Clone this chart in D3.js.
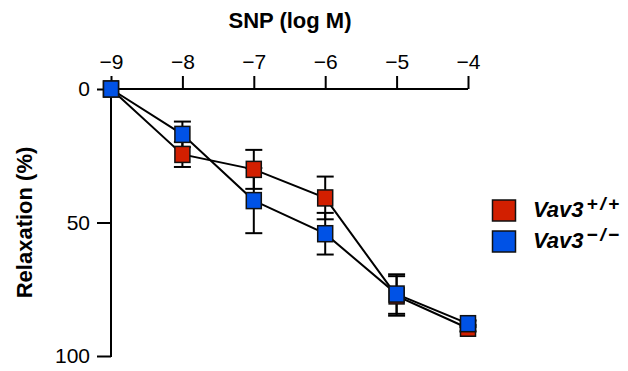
<!DOCTYPE html>
<html>
<head>
<meta charset="utf-8">
<script src="https://cdn.jsdelivr.net/npm/d3@7"></script>
<style>
  html, body { margin: 0; padding: 0; background: #fff; }
  svg { display: block; }
  text { font-family: "Liberation Sans", Arial, Helvetica, sans-serif; }
</style>
</head>
<body>
<svg id="chart" width="628" height="371"></svg>
<script>
// ---- data ----
const logConc = [-9, -8, -7, -6, -5, -4];
const xTicks = [-9, -8, -7, -6, -5, -4];
const yTicks = [0, 50, 100];
const wtMean = [0, 24.5, 30.1, 40.8, 77.5, 89.6];
const wtSem  = [0, 4.7, 7.3, 8.0, 7.4, 1.2];
const koMean = [0, 17.0, 41.8, 54.2, 76.8, 87.9];
const koSem  = [0, 4.8, 12.2, 7.8, 7.4, 1.2];
const seriesNames = ["+/+", "\u2212/\u2212"];
const xTitle = "SNP (log M)";
const yTitle = "Relaxation (%)";

const colors = ["#d21f00", "#0052e6"];

const svg = d3.select("#chart");
const x = d3.scaleLinear().domain([-9, -4]).range([111, 468]);
const y = d3.scaleLinear().domain([0, 100]).range([89, 356]);

const series = [
  { name: seriesNames[0], color: colors[0], pts: logConc.map((c, i) => ({ c, m: wtMean[i], s: wtSem[i] })) },
  { name: seriesNames[1], color: colors[1], pts: logConc.map((c, i) => ({ c, m: koMean[i], s: koSem[i] })) }
];

// axes
const xAxis = d3.axisTop(x).tickValues(xTicks).tickSize(13).tickPadding(7)
  .tickFormat(d => d3.format("")(d).replace("-", "\u2212"));
const gx = svg.append("g").attr("transform", `translate(0,${y(0)})`).call(xAxis);
gx.select(".domain").attr("d", `M${x(-9)},0H${x(-4)}`);
const yAxis = d3.axisLeft(y).tickValues(yTicks).tickSize(14).tickPadding(7);
const gy = svg.append("g").attr("transform", `translate(${x(-9)},0)`).call(yAxis);
gy.select(".domain").attr("d", `M0,${y(0)}V${y(100) + 1}`);
svg.selectAll(".domain, .tick line").attr("stroke", "#000").attr("stroke-width", 2);
svg.selectAll(".tick text").attr("font-size", 21).attr("fill", "#000")
  .attr("font-family", "Liberation Sans, Arial, sans-serif");

// titles
svg.append("text").attr("x", 290).attr("y", 28).attr("text-anchor", "middle")
  .attr("font-size", 22).attr("font-weight", "bold").text(xTitle);
svg.append("text").attr("transform", `translate(32,${y(50)}) rotate(-90)`)
  .attr("text-anchor", "middle").attr("font-size", 22).attr("font-weight", "bold").text(yTitle);

// error bars
const capW = 17;
series.forEach(s => {
  const g = svg.append("g");
  s.pts.filter(p => p.s > 0).forEach(p => {
    const cx = x(p.c), y1 = y(p.m - p.s), y2 = y(p.m + p.s);
    g.append("line").attr("x1", cx).attr("x2", cx).attr("y1", y1).attr("y2", y2)
      .attr("stroke", "#000").attr("stroke-width", 2);
    [y1, y2].forEach(yy => g.append("line").attr("x1", cx - capW / 2).attr("x2", cx + capW / 2)
      .attr("y1", yy).attr("y2", yy).attr("stroke", "#000").attr("stroke-width", 2));
  });
});

// lines
const line = d3.line().x(p => x(p.c)).y(p => y(p.m));
series.forEach(s => {
  svg.append("path").attr("d", line(s.pts)).attr("fill", "none")
    .attr("stroke", "#000").attr("stroke-width", 2);
});

// markers
const mw = 15, mh = 16;
series.forEach(s => {
  svg.append("g").selectAll("rect").data(s.pts).join("rect")
    .attr("x", p => x(p.c) - mw / 2).attr("y", p => y(p.m) - mh / 2)
    .attr("width", mw).attr("height", mh)
    .attr("fill", s.color).attr("stroke", "#111").attr("stroke-width", 1.5);
});

// legend
const leg = svg.append("g");
series.forEach((s, i) => {
  const ly = 200 + i * 31;
  leg.append("rect").attr("x", 492.5).attr("y", ly).attr("width", 23).attr("height", 21)
    .attr("fill", s.color).attr("stroke", "#111").attr("stroke-width", 1.5);
  const t = leg.append("text").attr("x", 533).attr("y", ly + 17)
    .attr("font-size", 22).attr("font-weight", "bold").attr("font-style", "italic");
  t.append("tspan").text("Vav3");
  t.append("tspan").attr("dx", 3).attr("dy", -7).attr("font-size", 19)
    .attr("letter-spacing", 2.5).text(s.name);
});
</script>
</body>
</html>
